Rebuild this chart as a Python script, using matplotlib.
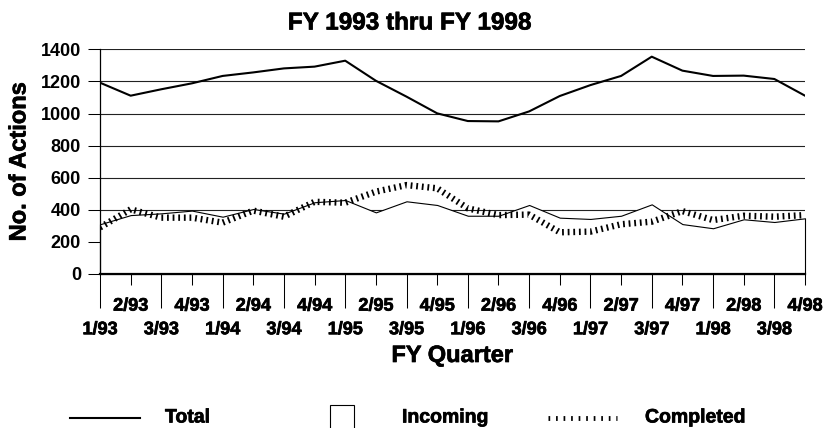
import matplotlib
matplotlib.use("Agg")
import matplotlib.pyplot as plt
import matplotlib.patheffects as pe
from matplotlib.lines import Line2D
from matplotlib.patches import Rectangle

plt.rcParams['font.family'] = ['Liberation Sans', 'DejaVu Sans']
plt.rcParams['font.weight'] = 'bold'

# quarterly data, FY93 - FY98
quarters = ['1/93', '2/93', '3/93', '4/93', '1/94', '2/94', '3/94', '4/94',
            '1/95', '2/95', '3/95', '4/95', '1/96', '2/96', '3/96', '4/96',
            '1/97', '2/97', '3/97', '4/97', '1/98', '2/98', '3/98', '4/98']
total = [1192, 1111, 1151, 1188, 1234, 1256, 1281, 1292, 1329, 1204, 1105, 1001,
         953, 951, 1013, 1109, 1177, 1234, 1354, 1267, 1234, 1236, 1215, 1111]
incoming = [310, 367, 378, 395, 357, 405, 376, 447, 461, 384, 453, 430,
            363, 363, 430, 351, 343, 363, 434, 311, 285, 341, 324, 347]
completed = [290, 403, 351, 351, 320, 395, 357, 450, 444, 513, 554, 534,
             409, 367, 370, 260, 264, 310, 326, 392, 336, 363, 357, 367]

x = list(range(len(quarters)))
heavy = [pe.withStroke(linewidth=0.5, foreground='black')]

fig = plt.figure(figsize=(8.25, 4.28), dpi=100)
ax = fig.add_axes([100/825, 1 - 274/428, 705/825, 224.7/428])

# incoming as white area with black outline
ax.fill_between(x, incoming, 0, facecolor='white', edgecolor='black',
                linewidth=0.8, zorder=2, clip_on=False)
ax.plot(x, total, color='black', linewidth=1.5, zorder=3)
ax.plot(x, completed, color='black', linewidth=4.6, dashes=(0.28, 0.6),
        dash_capstyle='butt', zorder=4)

ax.set_xlim(0, len(quarters) - 1)
ax.set_ylim(0, 1400)
ax.set_yticks(range(0, 1401, 200))
ax.yaxis.grid(True, color='#222222', linewidth=0.8)
ax.set_axisbelow(True)

ax.set_xticks(x[0::2])
ax.set_xticklabels(quarters[0::2])
ax.set_xticks(x[1::2], minor=True)
ax.set_xticklabels(quarters[1::2], minor=True)
ax.tick_params(axis='x', which='major', length=24.5, width=0.75, pad=9.5, labelsize=13)
ax.tick_params(axis='x', which='minor', length=8, width=0.75, pad=9, labelsize=13)
ax.tick_params(axis='y', length=8.6, width=0.75, pad=5, labelsize=13)

for s in ['top', 'right']:
    ax.spines[s].set_visible(False)
ax.spines['left'].set_linewidth(0.9)
ax.spines['bottom'].set_linewidth(1.6)

ax.set_ylabel('No. of Actions', fontsize=17, fontweight='bold', va='center')
ax.yaxis.set_label_coords(-0.115, 0.5)
ax.set_xlabel('FY Quarter', fontsize=17, fontweight='bold', va='top')
ax.xaxis.set_label_coords(0.5, (274 - 344) / 224.7)

fig.text(409.5/825, 1 - 23/428, 'FY 1993 thru FY 1998', fontsize=17.5,
         fontweight='bold', ha='center', va='center')

# legend row at the bottom
ly = 1 - 418/428
fig.add_artist(Line2D([70/825, 140/825], [ly, ly], color='black', linewidth=1.5))
fig.text(165/825, ly, 'Total', fontsize=14, fontweight='bold', va='center')
fig.add_artist(Rectangle((330/825, 1 - 433/428), 24/825, 28/428,
                         facecolor='white', edgecolor='black', linewidth=0.8))
fig.text(402/825, ly, 'Incoming', fontsize=14, fontweight='bold', va='center')
fig.add_artist(Line2D([548/825, 617/825], [ly, ly], color='black', linewidth=3.5,
                      dashes=(0.35, 1.2), dash_capstyle='butt'))
fig.text(645/825, ly, 'Completed', fontsize=14, fontweight='bold', va='center')

# heavier glyphs, like the original rendering
for t in fig.findobj(matplotlib.text.Text):
    if t.get_text():
        t.set_path_effects(heavy)

fig.savefig('out.png', dpi=100)
